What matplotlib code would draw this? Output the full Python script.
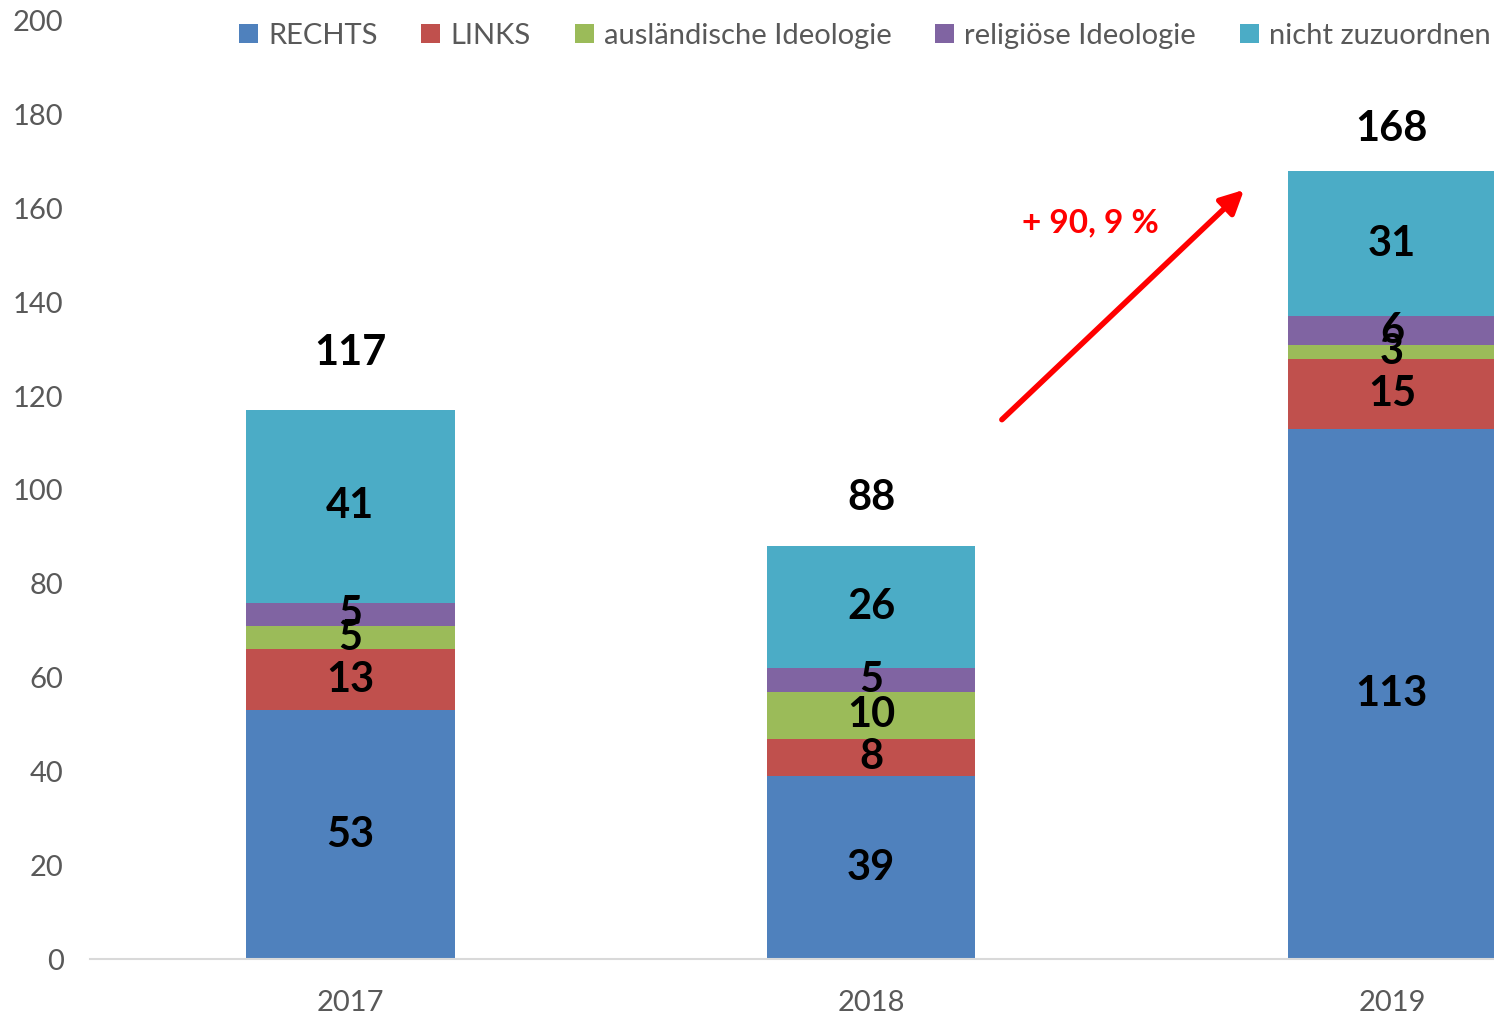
import matplotlib.pyplot as plt
import numpy as np

years = ['2017', '2018', '2019']
rechts = [53, 39, 113]
links = [13, 8, 15]
auslaendisch = [5, 10, 3]
religioes = [5, 5, 6]
nicht_zuzuordnen = [41, 26, 31]

series_names = ['RECHTS', 'LINKS', 'ausländische Ideologie', 'religiöse Ideologie', 'nicht zuzuordnen']
colors = ['#4F81BD', '#C0504D', '#9BBB59', '#8064A2', '#4BACC6']

plt.rcParams['font.family'] = ['Lato', 'DejaVu Sans']

fig = plt.figure(figsize=(14.94, 10.16), dpi=100)
ax = fig.add_axes([90 / 1494, 1 - 959 / 1016, 1 - 90 / 1494, (959 - 21) / 1016])

x = np.arange(len(years))
bottom = np.zeros(len(years))
for name, vals, c in zip(series_names, [rechts, links, auslaendisch, religioes, nicht_zuzuordnen], colors):
    vals = np.array(vals)
    ax.bar(x, vals, 0.4, bottom=bottom, color=c, label=name, edgecolor='none')
    for xi, b, v in zip(x, bottom, vals):
        ax.text(xi, b + v / 2, str(v), ha='center', va='center',
                fontsize=30, fontweight='bold', color='black')
    bottom += vals

# totals above the bars (offsets in points, like the original label placement)
total_offsets = [41, 35, 30]
for xi, t, off in zip(x, bottom, total_offsets):
    ax.annotate(str(int(t)), (xi, t), xytext=(0, off), textcoords='offset points',
                ha='center', va='center', fontsize=30, fontweight='bold')

# growth arrow
ax.annotate('', xy=(1.716, 164), xytext=(1.251, 115),
            arrowprops=dict(arrowstyle='-|>', color='#FF0000', lw=4,
                            mutation_scale=35, shrinkA=0, shrinkB=0))
ax.text(1.42, 157, '+ 90, 9 %', color='#FF0000', fontsize=24, fontweight='bold',
        ha='center', va='center')

ax.set_xlim(-0.5, 2.196)
ax.set_ylim(0, 200)
ax.set_yticks(range(0, 201, 20))
ax.set_xticks(x)
ax.set_xticklabels(years)
ax.tick_params(axis='y', length=0, pad=19, labelsize=21, labelcolor='#595959')
ax.tick_params(axis='x', length=0, pad=22, labelsize=21, labelcolor='#595959')
for s in ['top', 'right', 'left']:
    ax.spines[s].set_visible(False)
ax.spines['bottom'].set_color('#D9D9D9')
ax.spines['bottom'].set_linewidth(1.5)

fig.legend(loc='center', bbox_to_anchor=(865 / 1494, 1 - 36 / 1016), ncol=5, frameon=False,
           fontsize=21, labelcolor='#595959', handlelength=0.65, handleheight=0.65,
           handletextpad=0.35, columnspacing=1.5, borderaxespad=0, borderpad=0)

fig.savefig('out.png', dpi=100)
